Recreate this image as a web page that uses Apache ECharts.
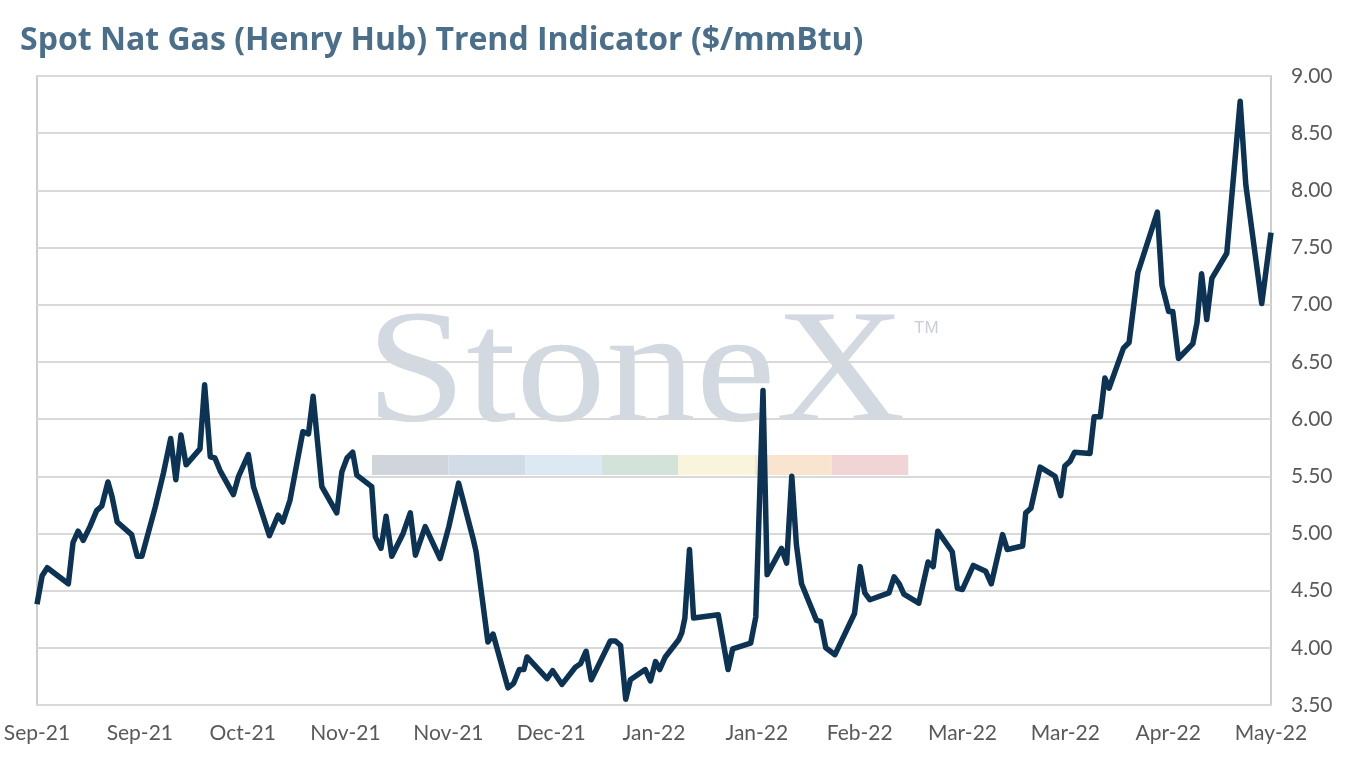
<!DOCTYPE html>
<html>
<head>
<meta charset="utf-8">
<script src="https://cdn.jsdelivr.net/npm/echarts@6/dist/echarts.min.js"></script>
<style>
  html, body { margin: 0; padding: 0; background: #fff; }
  #main { width: 1352px; height: 766px; }
</style>
</head>
<body>
<div id="main"></div>
<script>
// days since the first point
const dayIndex = [
  0, 1, 2, 6.1, 7, 8, 9, 10.3, 11.6, 12.6, 13.8, 14.6, 15.6, 18.4, 19.5, 20.4,
  23, 24.6, 26, 27, 28, 29, 31.7, 32.6, 33.7, 34.6, 35.6, 38.2, 39.2, 41.1,
  42.1, 45.2, 46.9, 47.8, 49.2, 51.7, 52.8, 53.7, 55.4, 58.3, 59.3, 60.3,
  61.4, 62.2, 65.1, 65.8, 66.9, 67.9, 69, 71.2, 72.6, 73.6, 75.5, 78.4, 79.2,
  80.1, 82, 84.9, 85.4, 87.7, 88.7, 91.6, 92.7, 93.8, 94.7, 95.3, 99.2,
  100.3, 102.1, 104.7, 105.7, 106.8, 107.8, 111.5, 112.5, 113.5, 114.5,
  115.4, 118.3, 119.3, 120.3, 121.1, 122.2, 124.8, 125.4, 126, 126.9, 127.7,
  132.5, 134.4, 135.3, 138.8, 139.8, 141.2, 142, 144.8, 145.8, 146.8, 147.7,
  148.7, 151.6, 152.4, 153.4, 155.2, 159, 160.1, 161, 162, 165.7, 166.7,
  167.7, 168.6, 171.5, 173.3, 174.3, 175.2, 178, 179, 180, 182.1, 184.5,
  185.6, 187.8, 188.7, 191.7, 192.3, 193.3, 195.1, 198, 199.1, 199.9, 200.9,
  201.8, 204.8, 205.6, 206.8, 207.7, 208.5, 211.3, 212.4, 214.1, 217.9,
  218.8, 220.1, 220.9, 222, 224.8, 225.6, 226.5, 227.5, 228.5, 231.4, 234,
  235.1, 238.2, 240
];

const prices = [
  4.38, 4.63, 4.70, 4.56, 4.92, 5.02, 4.94, 5.06, 5.20, 5.24, 5.45, 5.32,
  5.10, 4.99, 4.80, 4.80, 5.23, 5.53, 5.83, 5.47, 5.86, 5.60, 5.74, 6.30,
  5.67, 5.66, 5.55, 5.34, 5.50, 5.69, 5.41, 4.98, 5.16, 5.10, 5.29, 5.89,
  5.87, 6.20, 5.41, 5.18, 5.54, 5.66, 5.71, 5.51, 5.41, 4.97, 4.87, 5.15,
  4.80, 5.00, 5.18, 4.81, 5.06, 4.78, 4.91, 5.06, 5.44, 4.94, 4.84, 4.05,
  4.12, 3.65, 3.69, 3.81, 3.81, 3.92, 3.73, 3.80, 3.68, 3.83, 3.86, 3.97,
  3.72, 4.06, 4.06, 4.02, 3.55, 3.72, 3.81, 3.71, 3.88, 3.81, 3.92, 4.07,
  4.13, 4.26, 4.86, 4.26, 4.29, 3.81, 3.99, 4.04, 4.27, 6.25, 4.64, 4.87,
  4.74, 5.50, 4.90, 4.56, 4.24, 4.23, 4.00, 3.94, 4.30, 4.71, 4.48, 4.42,
  4.48, 4.62, 4.56, 4.47, 4.39, 4.75, 4.71, 5.02, 4.84, 4.52, 4.51, 4.72,
  4.67, 4.56, 4.99, 4.86, 4.89, 5.18, 5.22, 5.58, 5.50, 5.33, 5.59, 5.63,
  5.71, 5.70, 6.02, 6.02, 6.36, 6.27, 6.62, 6.67, 7.28, 7.81, 7.17, 6.94,
  6.94, 6.53, 6.66, 6.84, 7.27, 6.87, 7.23, 7.45, 8.78, 8.05, 7.01, 7.63
];

const tickLabels = [
  'Sep-21', 'Sep-21', 'Oct-21', 'Nov-21', 'Nov-21', 'Dec-21', 'Jan-22',
  'Jan-22', 'Feb-22', 'Mar-22', 'Mar-22', 'Apr-22', 'May-22'
];

const bandColors = ['#d0d5dc', '#d2dce6', '#dce9f3', '#d3e3da', '#f8f5dc', '#f9e5cf', '#f1d4d5'];

const chart = echarts.init(document.getElementById('main'));

const bandX = 372, bandW = 76.6;
const watermark = [
  {
    type: 'text', x: 366, y: 296, scaleX: 1.11, z: -10, silent: true,
    style: { text: 'StoneX', x: 0, y: 0, verticalAlign: 'top', font: '162px "Liberation Serif"', fill: '#d3d9e0' }
  },
  {
    type: 'text', left: 914, top: 320, z: -10, silent: true,
    style: { text: 'TM', font: '17px "Liberation Sans"', fill: '#c9cfd6' }
  }
];
bandColors.forEach((c, i) => {
  watermark.push({
    type: 'rect', z: -10, silent: true,
    shape: { x: bandX + i * bandW, y: 455, width: bandW, height: 20 },
    style: { fill: c }
  });
});

chart.setOption({
  animation: false,
  title: {
    text: 'Spot Nat Gas (Henry Hub) Trend Indicator ($/mmBtu)',
    left: 15,
    top: 20,
    textStyle: { fontFamily: 'Open Sans', fontWeight: 'bold', fontSize: 32, color: '#4b6f8a' }
  },
  graphic: watermark,
  grid: {
    left: 37, right: 81, top: 76, bottom: 61,
    show: true, borderColor: '#bfbfbf', borderWidth: 1.5
  },
  xAxis: {
    type: 'value',
    min: 0, max: 240, interval: 20,
    axisLine: { show: false },
    axisTick: { show: false },
    splitLine: { show: false },
    axisLabel: {
      fontFamily: 'Lato', fontSize: 21, color: '#595959', margin: 18,
      formatter: v => tickLabels[Math.round(v / 20)]
    }
  },
  yAxis: {
    type: 'value',
    position: 'right',
    min: 3.5, max: 9, interval: 0.5,
    axisLine: { show: false },
    axisTick: { show: false },
    splitLine: { lineStyle: { color: '#d9d9d9', width: 2 } },
    axisLabel: {
      fontFamily: 'Lato', fontSize: 21, color: '#595959', margin: 20,
      formatter: v => v.toFixed(2)
    }
  },
  series: [{
    type: 'line',
    showSymbol: false,
    data: dayIndex.map((d, i) => [d, prices[i]]),
    lineStyle: { color: '#0c3254', width: 5.5, join: 'round' },
    z: 5
  }]
});
</script>
</body>
</html>
